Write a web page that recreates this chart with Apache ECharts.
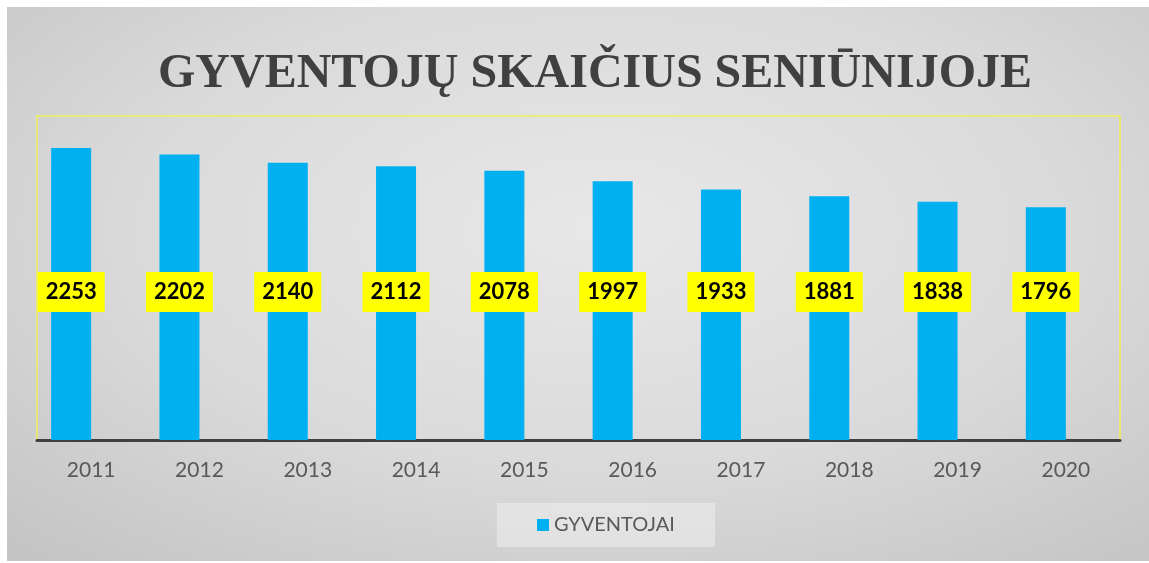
<!DOCTYPE html>
<html>
<head>
<meta charset="utf-8">
<script src="https://cdn.jsdelivr.net/npm/echarts@6/dist/echarts.min.js"></script>
<style>
  html, body { margin: 0; padding: 0; background: #fff; }
  #bg {
    position: absolute; left: 7px; top: 7px; width: 1142px; height: 554px;
    background: radial-gradient(ellipse 75% 80% at 52% 40%, #e8e8e8 0%, #dadada 55%, #c4c4c4 100%);
  }
  #chart { position: absolute; left: 0; top: 0; width: 1149px; height: 563px; }
</style>
</head>
<body>
<div id="bg"></div>
<div id="chart"></div>
<script>
// metai ir gyventojų skaičius
const years = ['2011', '2012', '2013', '2014', '2015', '2016', '2017', '2018', '2019', '2020'];
const residents = [2253, 2202, 2140, 2112, 2078, 1997, 1933, 1881, 1838, 1796];
const seriesName = 'GYVENTOJAI';
const titleText = 'GYVENTOJŲ SKAIČIUS SENIŪNIJOJE';

const chart = echarts.init(document.getElementById('chart'));

const option = {
    animation: false,
    title: {
        text: titleText,
        left: 590,
        top: 46,
        textAlign: 'center',
        textStyle: {
            fontFamily: 'Liberation Serif',
            fontWeight: 'bold',
            fontSize: 48,
            color: '#404040'
        }
    },
    legend: {
        data: [seriesName],
        left: 497,
        top: 503,
        padding: [12, 40],
        backgroundColor: 'rgba(255,255,255,0.35)',
        itemWidth: 12,
        itemHeight: 12,
        itemGap: 5,
        icon: 'rect',
        textStyle: {
            fontFamily: 'Lato',
            fontSize: 20,
            color: '#595959'
        }
    },
    grid: {
        left: 37,
        right: 29,
        top: 116,
        bottom: 123,
        show: true,
        borderColor: '#f0f05a',
        borderWidth: 1.5,
        backgroundColor: 'transparent'
    },
    xAxis: {
        type: 'category',
        data: years,
        axisTick: { show: false },
        axisLine: { lineStyle: { color: '#404040', width: 3 } },
        axisLabel: {
            margin: 20,
            fontFamily: 'Lato',
            fontSize: 21,
            color: '#595959'
        }
    },
    yAxis: {
        type: 'value',
        min: 0,
        max: 2500,
        show: false,
        splitLine: { show: false }
    },
    series: [
        {
            type: 'bar',
            name: seriesName,
            data: residents,
            barWidth: 40,
            barGap: '0%',
            itemStyle: { color: '#00b0f0' },
            label: {
                show: true,
                position: 'insideBottom',
                distance: 128,
                backgroundColor: '#ffff00',
                padding: [9, 8],
                lineHeight: 22,
                fontFamily: 'Lato',
                fontWeight: 'bold',
                fontSize: 22,
                color: '#000'
            }
        },
        {
            // tuščia serija, kad stulpeliai būtų pasislinkę kaip originale
            type: 'bar',
            name: 'tuscia',
            data: years.map(() => '-'),
            barWidth: 40,
            itemStyle: { color: 'transparent' }
        }
    ]
};

chart.setOption(option);
</script>
</body>
</html>
